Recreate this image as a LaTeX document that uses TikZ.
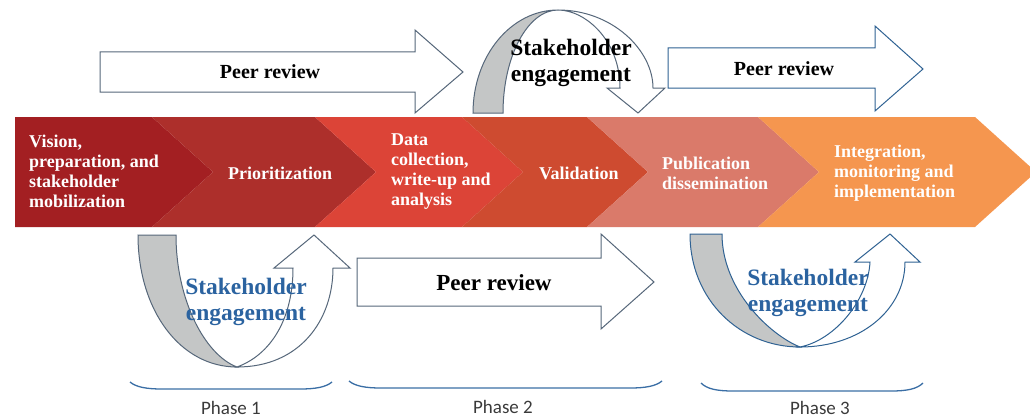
\documentclass[tikz,border=0pt]{standalone}
\usepackage{fontspec}
\setmainfont{Liberation Serif}
\newfontfamily\phasefont{Carlito}
\usepackage{xcolor}
\usetikzlibrary{positioning}

\definecolor{segA}{HTML}{A31F22}
\definecolor{segB}{HTML}{AD2F2B}
\definecolor{segC}{HTML}{DC4437}
\definecolor{segD}{HTML}{CE4B30}
\definecolor{segE}{HTML}{DA7A6A}
\definecolor{segF}{HTML}{F5964F}
\definecolor{slate}{HTML}{56677A}
\definecolor{steel}{HTML}{2F6293}
\definecolor{backgray}{HTML}{C4C6C6}
\definecolor{engageblue}{HTML}{2B63A0}
\definecolor{braceblue}{HTML}{3A6EA5}
\definecolor{phasegray}{HTML}{3A3A3A}

\begin{document}
\begin{tikzpicture}[
  x = 1pt, y = -1pt,
  stage/.style = {text=white, font=\bfseries\fontsize{18}{20}\selectfont,
      align=left, inner sep=0pt, anchor=west},
  peer/.style = {font=\bfseries\fontsize{20}{24}\selectfont, inner sep=0pt},
  engage/.style = {font=\bfseries\fontsize{23.5}{26}\selectfont,
      align=center, inner sep=0pt},
  reviewarrow/.style = {draw=#1, fill=white, line width=1pt, line join=miter},
  engageback/.style = {draw=#1, fill=backgray, line width=1pt},
  engagefront/.style = {draw=#1, fill=white, line width=1pt},
  phasebrace/.style = {draw=braceblue, line width=1.3pt},
  phase/.style = {font=\phasefont\fontsize{19}{22}\selectfont, text=phasegray,
      inner sep=0pt}
]
  \useasboundingbox (0,0) rectangle (1030,420);
  \clip (0,0) rectangle (1030,420);

  % chevron band
  \foreach \xl/\xr/\notch/\col in {15/152/0/segA, 152/315/61/segB, 315/462/61/segC,
                                   462/587/61/segD, 587/758/61/segE, 758/975/61/segF}
    \fill[\col] (\xl,117) -- (\xr,117) -- (\xr+61,172) -- (\xr,227) -- (\xl,227)
                -- (\xl+\notch,172) -- cycle;

  \node[stage] (vision) at (29,171) {Vision,\\preparation, and\\stakeholder\\mobilization};
  \node[stage] (prior)  at (228,173) {Prioritization};
  \node[stage] (data)   at (391,172) {Data\\collection,\\write-up and\\analysis};
  \node[stage] (valid)  at (539,173) {Validation};
  \node[stage] (publ)   at (662,173) {Publication\\dissemination};
  \node[stage] (integ)  at (834,173) {Integration,\\monitoring and\\implementation};

  % peer review arrows
  \draw[reviewarrow=slate] (100,52) -- (415,52) -- (415,30) -- (463,72) -- (415,113)
      -- (415,92) -- (100,92) -- cycle;
  \node[peer] (reviewA) at (270,72) {Peer review};

  \draw[reviewarrow=steel] (668,48) -- (875,48) -- (875,26) -- (923,69) -- (875,111)
      -- (875,88) -- (668,88) -- cycle;
  \node[peer] (reviewC) at (784,69) {Peer review};

  \draw[reviewarrow=slate] (357,258) -- (601,258) -- (601,234) -- (654,282) -- (601,329)
      -- (601,306) -- (357,306) -- cycle;
  \node[peer, font=\bfseries\fontsize{23}{26}\selectfont] (reviewB) at (494,283) {Peer review};

  % stakeholder engagement, top
  \draw[engageback=slate] (473,113) .. controls (473,56) and (511,10) .. (558,10)
      .. controls (528,10) and (503,56) .. (503,113) -- cycle;
  \draw[engagefront=slate] (558,10) .. controls (612,10) and (653,50) .. (653,88)
      -- (665,88) -- (638,113) -- (607,88) -- (620,88)
      .. controls (620,40) and (585,10) .. (558,10) -- cycle;
  \node[engage] (engageB) at (571,63) {Stakeholder\\engagement};

  % stakeholder engagement, phase 1
  \draw[engageback=slate] (138,235) .. controls (138,310) and (180,367) .. (237,367)
      .. controls (205,355) and (176,300) .. (176,235) -- cycle;
  \draw[engagefront=slate] (237,367) .. controls (300,367) and (333,320) .. (333,268)
      -- (350,268) -- (314,235) -- (274,268) -- (293,268)
      .. controls (293,320) and (270,355) .. (237,367) -- cycle;
  \node[engage, text=engageblue] (engageA) at (246,302) {Stakeholder\\engagement};

  % stakeholder engagement, phase 3
  \draw[engageback=steel] (690,234) .. controls (690,300) and (740,347) .. (800,347)
      .. controls (770,335) and (722,290) .. (722,234) -- cycle;
  \draw[engagefront=steel] (800,347) .. controls (860,347) and (905,310) .. (905,262)
      -- (920,262) -- (890,234) -- (855,262) -- (870,262)
      .. controls (868,300) and (835,340) .. (800,347) -- cycle;
  \node[engage, text=engageblue] (engageC) at (808,293) {Stakeholder\\engagement};

  % phases
  \draw[phasebrace] (130,382) .. controls (136,387) and (146,389) .. (162,389)
      -- (300,389) .. controls (316,389) and (326,387) .. (332,382);
  \draw[phasebrace] (349,381) .. controls (355,386) and (365,388) .. (381,388)
      -- (630,388) .. controls (646,388) and (656,386) .. (662,381);
  \draw[phasebrace] (701,383) .. controls (707,389) and (717,391) .. (733,391)
      -- (891,391) .. controls (907,391) and (917,389) .. (923,383);

  \node[phase] (phaseA) at (231,408) {Phase 1};
  \node[phase] (phaseB) at (503,407) {Phase 2};
  \node[phase] (phaseC) at (820,408) {Phase 3};
\end{tikzpicture}
\end{document}
